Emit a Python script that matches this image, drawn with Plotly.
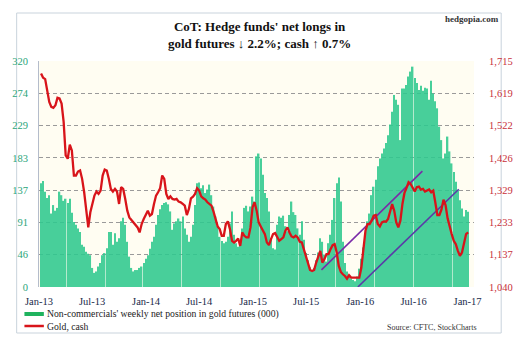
import pandas as pd
import plotly.graph_objects as go

# ---------------- data ----------------
week_start = "2013-01-08"   # weekly CoT report dates (Tuesdays)

net_longs = [
    147,150,135,126,130,104,116,108,112,135,130,122,125,119,125,105,92,88,83,78,60,57,50,47,45,27,20,22,29,34,45,48,55,78,78,
    60,76,64,69,93,98,88,64,43,27,22,24,24,27,29,34,40,45,54,64,71,88,102,110,116,119,120,117,107,81,90,93,97,93,100,
    83,74,64,71,88,116,147,148,140,144,133,138,145,130,114,100,86,71,65,62,64,71,90,107,74,62,57,59,83,112,115,107,114,128,121,
    185,189,182,159,133,126,107,69,55,53,88,100,98,101,86,79,102,121,106,102,83,74,93,67,48,38,28,22,27,38,49,69,64,46,36,
    62,74,95,126,147,155,121,64,34,22,17,12,10,8,15,26,40,56,71,93,104,130,142,152,171,182,189,196,204,215,230,248,272,265,258,
    208,281,281,286,298,305,312,296,289,279,285,278,282,281,265,292,274,263,253,227,208,182,189,213,192,175,163,149,137,123,111,100,109,106.6,
]

gold_cash = [
    1678,1665,1661,1628,1593,1578,1575,1583,1605,1603,1588,1533,1433,1423,1465,1448,1373,1373,1385,1388,1363,1323,1263,1218,1263,1293,1313,1325,1318,1328,1373,1391,1388,1363,1333,
    1325,1333,1325,1288,1338,1333,1303,1268,1248,1241,1235,1228,1218,1203,1228,1243,1258,1268,1253,1258,1288,1313,1323,1335,1373,1363,1318,1303,1311,1303,1301,1303,1295,1293,1288,
    1283,1255,1273,1305,1310,1318,1335,1328,1311,1305,1301,1293,1288,1283,1265,1245,1221,1213,1193,1193,1228,1236,1213,1178,1173,1178,1185,1163,1203,1193,1188,1188,1218,1278,1293,
    1268,1233,1221,1209,1198,1173,1165,1183,1198,1201,1188,1178,1183,1188,1208,1218,1203,1191,1188,1193,1188,1175,1173,1153,1133,1108,1091,1088,1091,1113,1128,1148,1113,1123,1138,
    1138,1153,1165,1168,1143,1103,1085,1078,1073,1065,1075,1068,1068,1068,1068,1068,1098,1153,1208,1228,1228,1238,1253,1255,1228,1221,1233,1236,1235,1243,1263,1288,1268,1233,1218,
    1238,1288,1321,1336,1353,1348,1335,1325,1338,1340,1331,1333,1325,1328,1331,1323,1328,1293,1255,1255,1271,1301,1285,1245,1218,1198,1178,1168,1148,1133,1143,1168,1198,1203,
]

assert len(net_longs) == len(gold_cash) == 209, (len(net_longs), len(gold_cash))

# trend channel drawn on the gold chart (date, price)
channel_upper_x = ["2015-08-22", "2016-07-31"]
channel_upper_y = [1091, 1386]
channel_lower_x = ["2015-12-24", "2016-12-02"]
channel_lower_y = [1040, 1332]

left_tick_labels = ["0", "46", "91", "137", "183", "229", "274", "320"]
right_tick_labels = ["1,040", "1,137", "1,233", "1,329", "1,426", "1,522", "1,619", "1,715"]
x_tick_dates = ["2013-01-01", "2013-07-01", "2014-01-01", "2014-07-01", "2015-01-01",
                "2015-07-01", "2016-01-01", "2016-07-01", "2017-01-01"]
x_tick_labels = ["Jan-13", "Jul-13", "Jan-14", "Jul-14", "Jan-15",
                 "Jul-15", "Jan-16", "Jul-16", "Jan-17"]

# ---------------- figure ----------------
dates = pd.date_range(week_start, periods=len(net_longs), freq="7D")
left_max, right_min, right_max = 320, 1040, 1715
left_vals = [left_max * k / 7 for k in range(8)]
right_vals = [right_min + (right_max - right_min) * k / 7 for k in range(8)]

SERIF = "Liberation Serif, Times New Roman, serif"

fig = go.Figure()
fig.add_trace(go.Bar(
    x=dates, y=net_longs, yaxis="y",
    marker=dict(color="#2fc98f", line=dict(width=0)), opacity=0.88,
    showlegend=False, hoverinfo="skip",
))
fig.add_trace(go.Scatter(
    x=channel_upper_x, y=channel_upper_y, yaxis="y2", mode="lines",
    line=dict(color="#7a2aa8", width=1.6), showlegend=False, hoverinfo="skip",
))
fig.add_trace(go.Scatter(
    x=channel_lower_x, y=channel_lower_y, yaxis="y2", mode="lines",
    line=dict(color="#5a3aa8", width=1.6), showlegend=False, hoverinfo="skip",
))
fig.add_trace(go.Scatter(
    x=dates, y=gold_cash, yaxis="y2", mode="lines",
    line=dict(color="#d8141a", width=2.3), showlegend=False, hoverinfo="skip",
))

L, R, T, B = 35, 42, 61, 56
W, H = 525, 343
pw, ph = W - L - R, H - T - B

def px(x):
    return (x - L) / pw

def py(y):
    return (H - B - y) / ph

fig.update_layout(
    width=W, height=H,
    margin=dict(l=L, r=R, t=T, b=B, pad=0),
    paper_bgcolor="white", plot_bgcolor="#fffdf2",
    bargap=0.3,
    font=dict(family=SERIF, size=10, color="#1a2a4a"),
    xaxis=dict(
        type="date", range=["2013-01-01", "2017-01-23"],
        tickvals=x_tick_dates, ticktext=x_tick_labels,
        showgrid=False, zeroline=False, showline=False,
        ticks="outside", ticklen=4, tickcolor="rgba(0,0,0,0)",
        tickfont=dict(family=SERIF, size=10.5, color="#1a2a4a"),
    ),
    yaxis=dict(
        range=[0, left_max], tickvals=left_vals, ticktext=left_tick_labels,
        showgrid=True, gridcolor="#9a9a9a", griddash="4px,3px", gridwidth=1,
        zeroline=False, showline=True, linecolor="#b4bccb", linewidth=1,
        ticks="outside", ticklen=8, tickcolor="rgba(0,0,0,0)",
        tickfont=dict(family=SERIF, size=10.5, color="#2aa57a"),
    ),
    yaxis2=dict(
        range=[right_min, right_max], tickvals=right_vals, ticktext=right_tick_labels,
        overlaying="y", side="right", showgrid=False, zeroline=False, showline=False,
        ticks="outside", ticklen=12, tickcolor="rgba(0,0,0,0)",
        tickfont=dict(family=SERIF, size=10.5, color="#c8303a"),
    ),
)

shapes = [
    # outer frame
    dict(type="rect", xref="paper", yref="paper",
         x0=px(12), x1=px(511), y0=py(333), y1=py(13),
         line=dict(color="#c9d3dc", width=1), fillcolor="rgba(0,0,0,0)", layer="below"),
    # legend swatches
    dict(type="rect", xref="paper", yref="paper",
         x0=px(20), x1=px(40), y0=py(316), y1=py(312),
         line=dict(width=0), fillcolor="#1fb35e"),
    dict(type="line", xref="paper", yref="paper",
         x0=px(20), x1=px(40), y0=py(326), y1=py(326),
         line=dict(color="#d8141a", width=2.5)),
]
fig.update_layout(shapes=shapes)

annotations = [
    dict(text="<b>CoT: Hedge funds' net longs in<br>gold futures \u2193 2.2%; cash \u2191 0.7%</b>",
         xref="paper", yref="paper", x=px(262), y=py(35), xanchor="center", yanchor="middle",
         showarrow=False, align="center",
         font=dict(family=SERIF, size=13, color="#111111")),
    dict(text="<b>hedgopia.com</b>", xref="paper", yref="paper", x=px(511), y=py(19),
         xanchor="right", yanchor="middle", showarrow=False,
         font=dict(family=SERIF, size=9, color="#333333")),
    dict(text="Non-commercials' weekly net position in gold futures (000)",
         xref="paper", yref="paper", x=px(41), y=py(314), xanchor="left", yanchor="middle",
         showarrow=False, font=dict(family=SERIF, size=9.7, color="#222222")),
    dict(text="Gold, cash", xref="paper", yref="paper", x=px(41), y=py(326),
         xanchor="left", yanchor="middle", showarrow=False,
         font=dict(family=SERIF, size=9.7, color="#222222")),
    dict(text="Source: CFTC, StockCharts", xref="paper", yref="paper", x=px(488), y=py(327),
         xanchor="right", yanchor="middle", showarrow=False,
         font=dict(family=SERIF, size=8, color="#333333")),
]
fig.update_layout(annotations=annotations)

fig.write_html("out.html")
